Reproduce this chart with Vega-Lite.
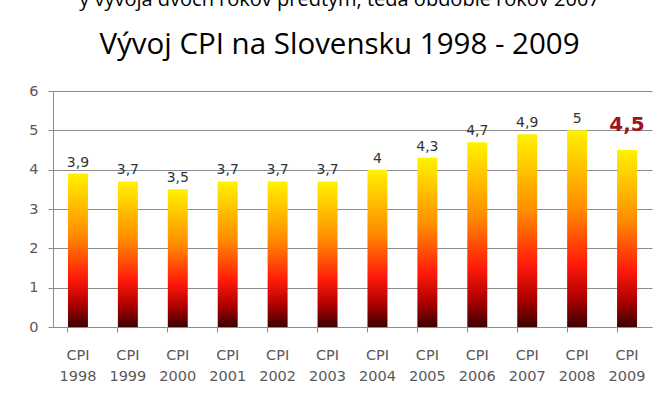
{
  "$schema": "https://vega.github.io/schema/vega-lite/v6.json",
  "width": 599,
  "height": 236,
  "autosize": "none",
  "padding": {"left": 53, "right": 7, "top": 91, "bottom": 76},
  "background": "white",
  "title": {
    "text": "ý vývoja dvoch rokov predtým, teda obdobie rokov 2007",
    "subtitle": "Vývoj CPI na Slovensku 1998 - 2009",
    "anchor": "middle",
    "font": "Open Sans",
    "fontSize": 20,
    "fontWeight": "normal",
    "color": "#000000",
    "subtitleFont": "Open Sans",
    "subtitleFontSize": 29.5,
    "subtitleColor": "#000000",
    "subtitlePadding": 21,
    "offset": 0,
    "dx": -13,
    "dy": -24
  },
  "data": {
    "values": [
      {"year": "1998", "cpi": 3.9},
      {"year": "1999", "cpi": 3.7},
      {"year": "2000", "cpi": 3.5},
      {"year": "2001", "cpi": 3.7},
      {"year": "2002", "cpi": 3.7},
      {"year": "2003", "cpi": 3.7},
      {"year": "2004", "cpi": 4},
      {"year": "2005", "cpi": 4.3},
      {"year": "2006", "cpi": 4.7},
      {"year": "2007", "cpi": 4.9},
      {"year": "2008", "cpi": 5},
      {"year": "2009", "cpi": 4.5}
    ]
  },
  "encoding": {
    "x": {
      "field": "year",
      "type": "ordinal",
      "scale": {"paddingInner": 0.6, "paddingOuter": 0.3},
      "axis": {
        "title": null,
        "labelAngle": 0,
        "labelExpr": "['CPI', datum.label]",
        "labelFont": "DejaVu Sans",
        "labelFontSize": 14.5,
        "labelColor": "#595959",
        "labelPadding": 16,
        "labelLineHeight": 21,
        "bandPosition": 0,
        "tickSize": 5,
        "tickColor": "#8c8c8c",
        "domainColor": "#8c8c8c"
      }
    },
    "y": {
      "field": "cpi",
      "type": "quantitative",
      "scale": {"domain": [0, 6]},
      "axis": {
        "title": null,
        "values": [0, 1, 2, 3, 4, 5, 6],
        "grid": true,
        "gridColor": "#8c8c8c",
        "tickSize": 5,
        "tickColor": "#8c8c8c",
        "domainColor": "#8c8c8c",
        "labelPadding": 10,
        "labelFont": "DejaVu Sans",
        "labelFontSize": 14.5,
        "labelColor": "#595959"
      }
    }
  },
  "layer": [
    {
      "mark": {
        "type": "bar",
        "color": {
          "gradient": "linear",
          "x1": 0, "y1": 1, "x2": 0, "y2": 0,
          "stops": [
            {"offset": 0, "color": "#3d0000"},
            {"offset": 0.15, "color": "#b00000"},
            {"offset": 0.32, "color": "#ff1a0a"},
            {"offset": 0.6, "color": "#ff8c00"},
            {"offset": 1, "color": "#fff200"}
          ]
        }
      }
    },
    {
      "transform": [{"filter": "datum.year != '2009'"}],
      "mark": {"type": "text", "baseline": "bottom", "dy": -4, "font": "DejaVu Sans", "fontSize": 14, "color": "#333333"},
      "encoding": {"text": {"field": "cpi", "type": "quantitative", "format": "~g"}}
    },
    {
      "transform": [{"filter": "datum.year == '2009'"}],
      "mark": {"type": "text", "baseline": "bottom", "dy": -15, "font": "DejaVu Sans", "fontSize": 20, "fontWeight": "bold", "color": "#a0141e"},
      "encoding": {"text": {"field": "cpi", "type": "quantitative", "format": "~g"}}
    }
  ],
  "config": {
    "view": {"stroke": null},
    "locale": {"number": {"decimal": ",", "thousands": " ", "grouping": [3], "currency": ["", " €"]}}
  }
}
